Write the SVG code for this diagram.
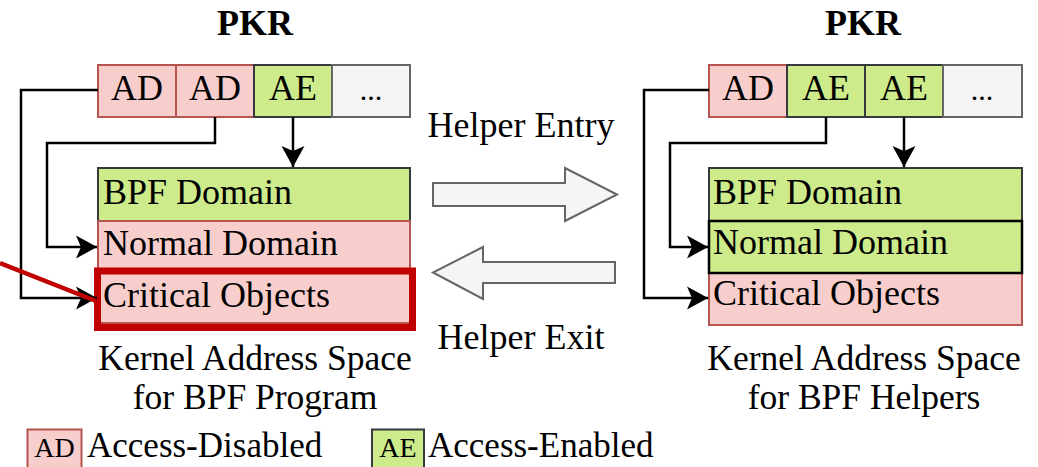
<svg xmlns="http://www.w3.org/2000/svg" width="1038" height="467" viewBox="0 0 1038 467">
<style>
  text { font-family: "Liberation Serif", "Times New Roman", serif; fill: #000; }
  .t36 { font-size: 36px; }
  .cap { font-size: 35.5px; text-anchor: middle; }
  .mid { text-anchor: middle; }
  .title { font-size: 36px; font-weight: bold; text-anchor: middle; }
  .red { fill: #f8cecc; stroke: #b85450; stroke-width: 2; }
  .green { fill: #cdeb8b; stroke: #36393d; stroke-width: 2; }
  .gray { fill: #f5f5f5; stroke: #666666; stroke-width: 2; }
  .conn { fill: none; stroke: #000; stroke-width: 2.5; }
  .block { fill: #f5f5f5; stroke: #666666; stroke-width: 2; }
</style>
<defs>
  <marker id="arr" markerUnits="userSpaceOnUse" markerWidth="22" markerHeight="24" refX="21" refY="12" orient="auto">
    <path d="M0,0.5 L21,12 L0,23.5 L5,12 z" fill="#000"/>
  </marker>
</defs>

<rect width="1038" height="467" fill="#fff"/>

<!-- Left panel -->
<g id="left-title"><text class="title" x="255" y="35">PKR</text></g>
<g id="left-pkr">
  <rect class="red" x="98" y="65" width="78" height="52"/>
  <text class="t36 mid" x="137" y="100">AD</text>
  <rect class="red" x="176" y="65" width="78" height="52"/>
  <text class="t36 mid" x="215" y="100">AD</text>
  <rect class="green" x="254" y="65" width="78" height="52"/>
  <text class="t36 mid" x="293" y="100">AE</text>
  <rect class="gray" x="332" y="65" width="78" height="52"/>
  <text class="mid" style="font-size:30px" x="371" y="100">...</text>
</g>
<g id="left-bpf">
  <rect class="green" x="98" y="168" width="312" height="53"/>
  <text class="t36" x="103" y="204">BPF Domain</text>
</g>
<g id="left-normal">
  <rect class="red" x="98" y="221" width="312" height="49"/>
  <text class="t36" x="103" y="255">Normal Domain</text>
</g>
<g id="left-critical">
  <rect class="red" x="98" y="270" width="312" height="53"/>
  <text class="t36" x="103" y="307">Critical Objects</text>
  <rect x="97.5" y="271" width="315" height="56.5" fill="none" stroke="#c00000" stroke-width="7"/>
</g>
<g id="left-caption">
  <text class="cap" x="255" y="370">Kernel Address Space</text>
  <text class="cap" x="255" y="409">for BPF Program</text>
</g>

<!-- Right panel -->
<g id="right-title"><text class="title" x="863" y="35">PKR</text></g>
<g id="right-pkr">
  <rect class="red" x="709" y="65" width="78" height="52"/>
  <text class="t36 mid" x="748" y="100">AD</text>
  <rect class="green" x="787" y="65" width="78" height="52"/>
  <text class="t36 mid" x="826" y="100">AE</text>
  <rect class="green" x="865" y="65" width="78" height="52"/>
  <text class="t36 mid" x="904" y="100">AE</text>
  <rect class="gray" x="943" y="65" width="79" height="52"/>
  <text class="mid" style="font-size:30px" x="982" y="100">...</text>
</g>
<g id="right-bpf">
  <rect class="green" x="709" y="168" width="313" height="53"/>
  <text class="t36" x="713" y="204">BPF Domain</text>
</g>
<g id="right-critical">
  <rect class="red" x="709" y="273" width="313" height="52"/>
  <text class="t36" x="713" y="305">Critical Objects</text>
</g>
<g id="right-normal">
  <rect class="green" x="709" y="221" width="313" height="52" style="stroke:#000;stroke-width:2.5"/>
  <text class="t36" x="713" y="254">Normal Domain</text>
</g>
<g id="right-caption">
  <text class="cap" x="864" y="370">Kernel Address Space</text>
  <text class="cap" x="864" y="409">for BPF Helpers</text>
</g>

<!-- Middle transition -->
<g id="helper-entry">
  <text class="t36 mid" x="521" y="137">Helper Entry</text>
  <polygon class="block" points="433,183 565,183 565,168 617,194.5 565,221 565,206 433,206"/>
</g>
<g id="helper-exit">
  <polygon class="block" points="615,262 483,262 483,247 433,272.5 483,299 483,283 615,283"/>
  <text class="t36 mid" x="521" y="349">Helper Exit</text>
</g>

<!-- Connectors -->
<g id="connectors">
  <path class="conn" d="M98,90 H21 V298 H97" marker-end="url(#arr)"/>
  <path class="conn" d="M215,117 V143 H47 V247 H97" marker-end="url(#arr)"/>
  <path class="conn" d="M293,117 V167" marker-end="url(#arr)"/>
  <path class="conn" d="M709,90 H644 V298 H708" marker-end="url(#arr)"/>
  <path class="conn" d="M826,117 V143 H670 V247 H708" marker-end="url(#arr)"/>
  <path class="conn" d="M904,117 V167" marker-end="url(#arr)"/>
  <line x1="0" y1="263" x2="96" y2="301" stroke="#c00000" stroke-width="4.5"/>
</g>

<!-- Legend -->
<g id="legend-ad">
  <rect x="27.5" y="429.5" width="54" height="42" fill="#f8cecc" stroke="#b85450" stroke-width="2"/>
  <text class="mid" style="font-size:28px" x="54.5" y="457">AD</text>
  <text style="font-size:35px" x="87" y="457">Access-Disabled</text>
</g>
<g id="legend-ae">
  <rect x="372" y="429.5" width="52" height="42" fill="#cdeb8b" stroke="#36393d" stroke-width="2"/>
  <text class="mid" style="font-size:28px" x="398" y="457">AE</text>
  <text style="font-size:35px" x="428" y="457">Access-Enabled</text>
</g>
</svg>
